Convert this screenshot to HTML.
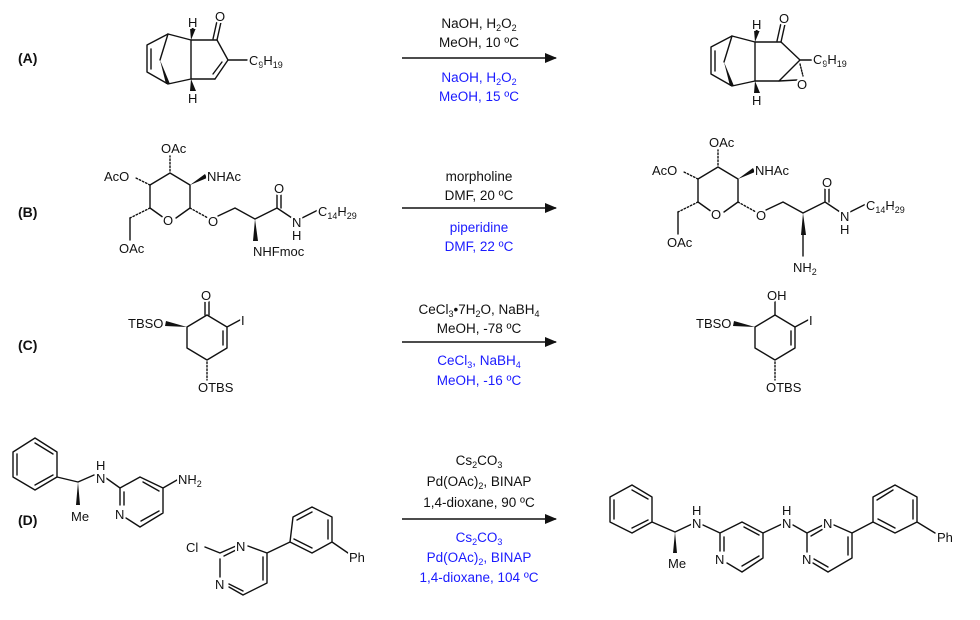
<!DOCTYPE html>
<html><head><meta charset="utf-8"><style>
html,body{margin:0;padding:0;background:#fff;}
svg{display:block;font-family:"Liberation Sans",Arial,sans-serif;}
.b{stroke:#111;stroke-width:1.4;fill:none;stroke-linecap:round;stroke-linejoin:round}
.a{fill:#111;font-size:13px;paint-order:stroke;stroke:#fff;stroke-width:4px;stroke-linejoin:round}
.c{font-size:13.5px;fill:#111;text-anchor:middle}
.bl{fill:#1a1aff}
.lab{font-size:14px;font-weight:bold;fill:#111}
</style></head><body>
<svg width="980" height="620" viewBox="0 0 980 620" xmlns="http://www.w3.org/2000/svg">
<defs><marker id="ar" markerWidth="12" markerHeight="10" refX="11" refY="5" orient="auto" markerUnits="userSpaceOnUse"><path d="M0,0 L12,5 L0,10 z" fill="#111"/></marker></defs>

<text class="lab" x="18" y="63">(A)</text>
<text class="lab" x="18" y="217">(B)</text>
<text class="lab" x="18" y="350">(C)</text>
<text class="lab" x="18" y="525">(D)</text>

<line x1="402" y1="58" x2="556" y2="58" stroke="#111" stroke-width="1.4" marker-end="url(#ar)"/>
<line x1="402" y1="208" x2="556" y2="208" stroke="#111" stroke-width="1.4" marker-end="url(#ar)"/>
<line x1="402" y1="342" x2="556" y2="342" stroke="#111" stroke-width="1.4" marker-end="url(#ar)"/>
<line x1="402" y1="519" x2="556" y2="519" stroke="#111" stroke-width="1.4" marker-end="url(#ar)"/>

<text class="c" x="479" y="28">NaOH, H<tspan font-size="9" dy="3">2</tspan><tspan dy="-3">O</tspan><tspan font-size="9" dy="3">2</tspan></text>
<text class="c" x="479" y="47">MeOH, 10 ºC</text>
<text class="c bl" x="479" y="82">NaOH, H<tspan font-size="9" dy="3">2</tspan><tspan dy="-3">O</tspan><tspan font-size="9" dy="3">2</tspan></text>
<text class="c bl" x="479" y="101">MeOH, 15 ºC</text>

<text class="c" x="479" y="181">morpholine</text>
<text class="c" x="479" y="200">DMF, 20 ºC</text>
<text class="c bl" x="479" y="232">piperidine</text>
<text class="c bl" x="479" y="251">DMF, 22 ºC</text>

<text class="c" x="479" y="314">CeCl<tspan font-size="9" dy="3">3</tspan><tspan dy="-3">•7H</tspan><tspan font-size="9" dy="3">2</tspan><tspan dy="-3">O, NaBH</tspan><tspan font-size="9" dy="3">4</tspan></text>
<text class="c" x="479" y="333">MeOH, -78 ºC</text>
<text class="c bl" x="479" y="365">CeCl<tspan font-size="9" dy="3">3</tspan><tspan dy="-3">, NaBH</tspan><tspan font-size="9" dy="3">4</tspan></text>
<text class="c bl" x="479" y="385">MeOH, -16 ºC</text>

<text class="c" x="479" y="465">Cs<tspan font-size="9" dy="3">2</tspan><tspan dy="-3">CO</tspan><tspan font-size="9" dy="3">3</tspan></text>
<text class="c" x="479" y="486">Pd(OAc)<tspan font-size="9" dy="3">2</tspan><tspan dy="-3">, BINAP</tspan></text>
<text class="c" x="479" y="507">1,4-dioxane, 90 ºC</text>
<text class="c bl" x="479" y="542">Cs<tspan font-size="9" dy="3">2</tspan><tspan dy="-3">CO</tspan><tspan font-size="9" dy="3">3</tspan></text>
<text class="c bl" x="479" y="562">Pd(OAc)<tspan font-size="9" dy="3">2</tspan><tspan dy="-3">, BINAP</tspan></text>
<text class="c bl" x="479" y="582">1,4-dioxane, 104 ºC</text>

<g id="acore">
<path class="b" d="M168,34 L147,45 L147,72 L168,84 L191,79 L191,40 L168,34 M151,49 L151,69 M191,40 L217,40 M215,79 L191,79"/>
<path class="b" d="M168,34 L160,60" stroke-width="2.2"/>
<polygon points="160,60 166,84 170,84" fill="#111"/>
<polygon points="191,40 190,28 196,28" fill="#111"/>
<polygon points="191,79 190,91 196,91" fill="#111"/>
<path class="b" d="M217,40 L221,22 M213,39 L217,21"/>
<text class="a" x="188" y="27">H</text>
<text class="a" x="188" y="103">H</text>
<text class="a" x="215" y="21">O</text>
</g>
<path class="b" d="M217,40 L228,60 L215,79 M222,62 L213,74 M228,60 L247,60"/>
<text class="a" x="249" y="65">C<tspan font-size="9" dy="3">9</tspan><tspan dy="-3">H</tspan><tspan font-size="9" dy="3">19</tspan></text>

<g transform="translate(564,2)"><use href="#acore"/></g>
<path class="b" d="M781,42 L800,60 L779,81 M800,60 L812,60 M779,81 L797,80"/>
<path d="M800,64 L803,76" class="b" stroke-dasharray="1.5,1.5"/>
<text class="a" x="797" y="89">O</text>
<text class="a" x="813" y="64">C<tspan font-size="9" dy="3">9</tspan><tspan dy="-3">H</tspan><tspan font-size="9" dy="3">19</tspan></text>

<g id="bsug">
<path class="b" d="M170,173 L190,185 L190,208 L176,218 M164,218 L150,208 L150,185 L170,173"/>
<path class="b" d="M170,171 L170,156" stroke-dasharray="1.5,2"/>
<path class="b" d="M150,185 L136,178" stroke-dasharray="1.5,2"/>
<polygon points="190,185 205,174 207,178" fill="#111"/>
<path class="b" d="M150,208 L130,218" stroke-dasharray="1.5,2"/>
<path class="b" d="M130,218 L130,240"/>
<path class="b" d="M190,208 L208,218" stroke-dasharray="1.5,2"/>
<path class="b" d="M218,216 L235,208 L255,219 L277,208 L292,218 M277,208 L277,193 M281,208 L281,193 M302,218 L318,210"/>
<text class="a" x="163" y="225">O</text>
<text class="a" x="161" y="153">OAc</text>
<text class="a" x="104" y="181">AcO</text>
<text class="a" x="207" y="181">NHAc</text>
<text class="a" x="119" y="253">OAc</text>
<text class="a" x="208" y="226">O</text>
<text class="a" x="274" y="193">O</text>
<text class="a" x="292" y="227">N</text>
<text class="a" x="292" y="240">H</text>
<text class="a" x="318" y="216">C<tspan font-size="9" dy="3">14</tspan><tspan dy="-3">H</tspan><tspan font-size="9" dy="3">29</tspan></text>
</g>
<polygon points="255,219 253,241 258,241" fill="#111"/>
<text class="a" x="253" y="256">NHFmoc</text>

<g transform="translate(548,-6)"><use href="#bsug"/>
<polygon points="255,219 253,241 258,241" fill="#111"/>
<path class="b" d="M255,241 L255,262"/>
<text class="a" x="245" y="278">NH<tspan font-size="9" dy="3">2</tspan></text>
</g>

<g id="ccore">
<path class="b" d="M207,315 L227,327 L227,348 L207,360 L187,348 L187,327 L207,315 M223,331 L223,345 M227,327 L240,320"/>
<path class="b" d="M207,362 L207,380" stroke-dasharray="1.5,2"/>
<polygon points="187,327 166,321 165,326" fill="#111"/>
<text class="a" x="128" y="328">TBSO</text>
<text class="a" x="198" y="392">OTBS</text>
<text class="a" x="241" y="325">I</text>
</g>
<path class="b" d="M205,315 L205,299 M209,315 L209,299"/>
<text class="a" x="201" y="300">O</text>
<g transform="translate(568,0)"><use href="#ccore"/></g>
<path class="b" d="M775,315 L775,300"/>
<text class="a" x="767" y="300">OH</text>

<path class="b" d="M35,438 L57,452 L57,477 L35,490 L13,477 L13,452 Z M35,443 L53,454 M53,475 L35,485 M17,475 L17,454"/>
<path class="b" d="M57,477 L78,482 L94,475"/>
<polygon points="78,482 76,505 80,505" fill="#111"/>
<path class="b" d="M106,478 L120,488 L140,477 L163,488 L163,513 L140,527 L126,518 M120,488 L120,505 M124,492 L124,505 M143,482 L159,491 M159,511 L141,521 M163,488 L177,480"/>
<text class="a" x="96" y="483">N</text>
<text class="a" x="96" y="470">H</text>
<text class="a" x="71" y="521">Me</text>
<text class="a" x="115" y="519">N</text>
<text class="a" x="178" y="484">NH<tspan font-size="9" dy="3">2</tspan></text>
<path class="b" d="M205,547 L220,553 L236,546 M248,546 L267,553 L267,583 L243,595 L229,587 M220,559 L220,577 M224,556 L238,549 M263,557 L263,580 M243,591 L229,584 M267,553 L290,542"/>
<path class="b" d="M290,542 L293,517 L312,507 L332,517 L332,542 L312,553 Z M297,520 L312,512 M328,520 L328,539 M312,548 L294,539 M332,542 L348,553"/>
<text class="a" x="186" y="552">Cl</text>
<text class="a" x="236" y="551">N</text>
<text class="a" x="215" y="589">N</text>
<text class="a" x="349" y="562">Ph</text>

<path class="b" d="M632,485 L652,497 L652,522 L632,533 L610,522 L610,497 Z M632,490 L648,499 M648,520 L632,528 M614,519 L614,500"/>
<path class="b" d="M652,522 L675,532 L692,524"/>
<polygon points="675,532 673,553 677,553" fill="#111"/>
<path class="b" d="M703,525 L720,533 L742,522 L763,533 L763,558 L742,572 L727,563 M720,533 L720,551 M724,537 L724,551 M744,527 L759,535 M759,556 L742,566 M763,533 L782,524"/>
<path class="b" d="M793,525 L807,533 L823,525 M834,525 L852,533 L852,558 L828,572 L813,563 M807,533 L807,552 M811,536 L823,529 M848,537 L848,555 M828,567 L814,559 M852,533 L873,522"/>
<path class="b" d="M873,522 L873,497 L895,485 L917,497 L917,522 L895,533 Z M877,500 L893,490 M913,500 L913,519 M895,528 L878,519 M917,522 L935,533"/>
<text class="a" x="692" y="528">N</text>
<text class="a" x="692" y="515">H</text>
<text class="a" x="668" y="568">Me</text>
<text class="a" x="715" y="564">N</text>
<text class="a" x="782" y="528">N</text>
<text class="a" x="782" y="515">H</text>
<text class="a" x="823" y="528">N</text>
<text class="a" x="802" y="564">N</text>
<text class="a" x="937" y="542">Ph</text>
</svg>
</body></html>
